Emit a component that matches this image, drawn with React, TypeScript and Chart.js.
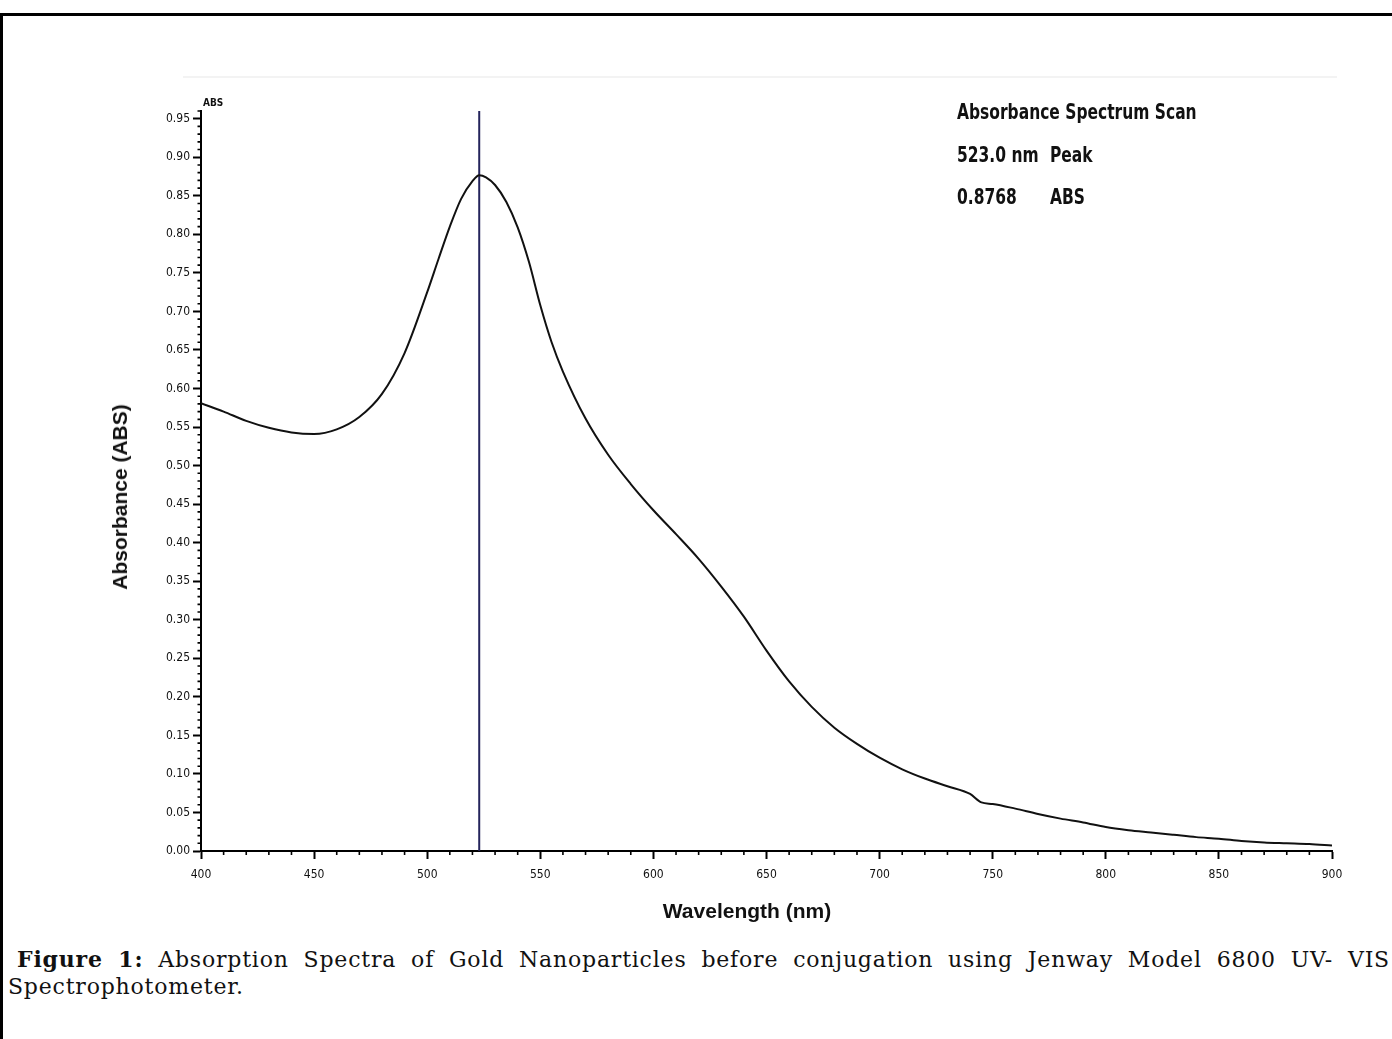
import React, { useEffect, useRef } from "react";
import { Chart, registerables } from "chart.js";

Chart.register(...registerables);

// ---- data ----
const wavelengths = [
  400, 410, 420, 430, 440, 450, 460, 470, 480, 490, 500, 505, 510, 515, 520,
  523, 526, 530, 535, 540, 545, 550, 555, 560, 570, 580, 590, 600, 610, 620,
  630, 640, 650, 660, 670, 680, 690, 700, 710, 720, 730, 740, 745, 750, 760,
  770, 780, 790, 800, 810, 820, 830, 840, 850, 860, 870, 880, 890, 900,
];
const absorbance = [
  0.581, 0.57, 0.558, 0.549, 0.543, 0.541, 0.547, 0.563, 0.593, 0.646, 0.725,
  0.768, 0.81, 0.846, 0.869, 0.8768, 0.874, 0.864, 0.842, 0.809, 0.764, 0.708,
  0.66, 0.622, 0.561, 0.514, 0.476, 0.442, 0.411, 0.379, 0.343, 0.304, 0.26,
  0.22, 0.187, 0.16, 0.139, 0.121, 0.106, 0.094, 0.084, 0.074, 0.063, 0.061,
  0.055, 0.048, 0.042, 0.037, 0.031, 0.027, 0.024, 0.021, 0.018, 0.016, 0.013,
  0.011, 0.01, 0.009, 0.007,
];
const peakWavelength = 523.0;
const xTicks = [400, 450, 500, 550, 600, 650, 700, 750, 800, 850, 900];
const yTicks = [
  0.0, 0.05, 0.1, 0.15, 0.2, 0.25, 0.3, 0.35, 0.4, 0.45, 0.5, 0.55, 0.6, 0.65,
  0.7, 0.75, 0.8, 0.85, 0.9, 0.95,
];
const xMinorStep = 10;
const yMinorStep = 0.01;
const xRange = [400, 900];
const yRange = [0, 0.96];

const infoTitle = "Absorbance Spectrum Scan";
const infoPeak = "523.0 nm";
const infoPeakLabel = "Peak";
const infoAbs = "0.8768";
const infoAbsLabel = "ABS";
const yTitle = "Absorbance (ABS)";
const xTitle = "Wavelength (nm)";
const captionLine1 = "Absorption Spectra of Gold Nanoparticles before conjugation using Jenway Model 6800 UV- VIS";
const captionLine2 = "Spectrophotometer.";

const NARROW = "'Liberation Sans Narrow', 'DejaVu Sans Condensed', 'Liberation Sans', sans-serif";

const minorTicks = {
  id: "minorTicks",
  afterDraw(chart: any) {
    const { ctx, chartArea } = chart;
    const xs = chart.scales.x;
    const ys = chart.scales.y;
    ctx.save();
    ctx.strokeStyle = "#000";
    ctx.lineWidth = 1.6;
    ctx.beginPath();
    for (let v = xRange[0]; v <= xRange[1] + 1e-9; v += xMinorStep) {
      if (Math.abs(v % 50) < 1e-6) continue;
      const px = xs.getPixelForValue(v);
      ctx.moveTo(px, chartArea.bottom);
      ctx.lineTo(px, chartArea.bottom + 4);
    }
    for (let i = 0; i * yMinorStep <= yRange[1] + 1e-9; i++) {
      if (i % 5 === 0) continue;
      const py = ys.getPixelForValue(i * yMinorStep);
      ctx.moveTo(chartArea.left - 3.5, py);
      ctx.lineTo(chartArea.left, py);
    }
    ctx.stroke();
    ctx.restore();
  },
};

function SpectrumChart() {
  const ref = useRef<HTMLCanvasElement | null>(null);
  useEffect(() => {
    if (!ref.current) return;
    const chart = new Chart(ref.current, {
      type: "line",
      data: {
        datasets: [
          {
            data: wavelengths.map((w, i) => ({ x: w, y: absorbance[i] })),
            borderColor: "#111",
            borderWidth: 2,
            pointRadius: 0,
            cubicInterpolationMode: "monotone",
            fill: false,
          },
          {
            data: [
              { x: peakWavelength, y: yRange[0] },
              { x: peakWavelength, y: yRange[1] },
            ],
            borderColor: "#24245c",
            borderWidth: 2,
            pointRadius: 0,
            fill: false,
          },
        ],
      },
      options: {
        responsive: false,
        animation: false,
        events: [],
        layout: { padding: { left: 0, top: 111, right: 60, bottom: 0 } },
        plugins: { legend: { display: false }, tooltip: { enabled: false } },
        scales: {
          x: {
            type: "linear",
            min: xRange[0],
            max: xRange[1],
            afterFit: (s: any) => {
              s.height = 89;
            },
            afterBuildTicks: (s: any) => {
              s.ticks = xTicks.map((v) => ({ value: v }));
            },
            border: { display: true, color: "#000", width: 2 },
            grid: {
              drawOnChartArea: false,
              drawTicks: true,
              tickLength: 8,
              tickColor: "#000",
              tickWidth: 2,
            },
            ticks: {
              autoSkip: false,
              maxRotation: 0,
              padding: 9,
              color: "#111",
              font: { family: NARROW, size: 12 },
              callback: (v: any) => String(v),
            },
          },
          y: {
            type: "linear",
            min: yRange[0],
            max: yRange[1],
            afterFit: (s: any) => {
              s.width = 201;
            },
            afterBuildTicks: (s: any) => {
              s.ticks = yTicks.map((v) => ({ value: v }));
            },
            border: { display: true, color: "#000", width: 2 },
            grid: {
              drawOnChartArea: false,
              drawTicks: true,
              tickLength: 8,
              tickColor: "#000",
              tickWidth: 2,
            },
            ticks: {
              autoSkip: false,
              padding: 3,
              color: "#111",
              font: { family: NARROW, size: 12 },
              callback: (v: any) => Number(v).toFixed(2),
            },
          },
        },
      },
      plugins: [minorTicks],
    });
    return () => chart.destroy();
  }, []);
  return (
    <canvas
      ref={ref}
      width={1392}
      height={940}
      style={{ position: "absolute", left: 0, top: 0, width: 1392, height: 940 }}
    />
  );
}

export default function App() {
  const infoStyle: React.CSSProperties = {
    position: "absolute",
    fontFamily: NARROW,
    fontWeight: "bold",
    fontSize: 21,
    color: "#111",
    whiteSpace: "nowrap",
    lineHeight: "24px",
    transform: "scaleX(0.82)",
    transformOrigin: "0 50%",
  };
  return (
    <div
      style={{
        position: "absolute",
        left: 0,
        top: 0,
        width: 1392,
        height: 1039,
        overflow: "hidden",
        background: "#fff",
      }}
    >
      <div
        style={{
          position: "absolute",
          left: 0,
          top: 13,
          width: 1420,
          height: 1100,
          borderLeft: "3px solid #000",
          borderTop: "3px solid #000",
          boxSizing: "border-box",
        }}
      />
      <div
        style={{
          position: "absolute",
          left: 183,
          top: 76,
          width: 1154,
          height: 2,
          background: "#f3f3f3",
        }}
      />
      <SpectrumChart />
      <div
        style={{
          position: "absolute",
          left: 203,
          top: 97,
          fontFamily: NARROW,
          fontSize: 10,
          fontWeight: "bold",
          color: "#111",
        }}
      >
        ABS
      </div>
      <div style={{ ...infoStyle, left: 957, top: 100 }}>{infoTitle}</div>
      <div style={{ ...infoStyle, left: 957, top: 143 }}>{infoPeak}</div>
      <div style={{ ...infoStyle, left: 1050, top: 143 }}>{infoPeakLabel}</div>
      <div style={{ ...infoStyle, left: 957, top: 185 }}>{infoAbs}</div>
      <div style={{ ...infoStyle, left: 1050, top: 185 }}>{infoAbsLabel}</div>
      <div
        style={{
          position: "absolute",
          left: 120,
          top: 497,
          transform: "translate(-50%, -50%) rotate(-90deg)",
          fontFamily: "'Liberation Sans', Arial, sans-serif",
          fontWeight: "bold",
          fontSize: 21,
          color: "#111",
          whiteSpace: "nowrap",
        }}
      >
        {yTitle}
      </div>
      <div
        style={{
          position: "absolute",
          left: 747,
          top: 911,
          transform: "translate(-50%, -50%)",
          fontFamily: "'Liberation Sans', Arial, sans-serif",
          fontWeight: "bold",
          fontSize: 21,
          color: "#111",
          whiteSpace: "nowrap",
        }}
      >
        {xTitle}
      </div>
      <div
        style={{
          position: "absolute",
          left: 8,
          top: 946,
          width: 1382,
          fontFamily: "Georgia, 'DejaVu Serif', serif",
          fontSize: 22,
          lineHeight: "27px",
          letterSpacing: 0.8,
          color: "#111",
        }}
      >
        <div
          style={{
            textAlign: "justify",
            textAlignLast: "justify",
            paddingLeft: 9,
            whiteSpace: "nowrap",
          }}
        >
          <b>Figure 1:</b> {captionLine1}
        </div>
        <div>{captionLine2}</div>
      </div>
    </div>
  );
}
